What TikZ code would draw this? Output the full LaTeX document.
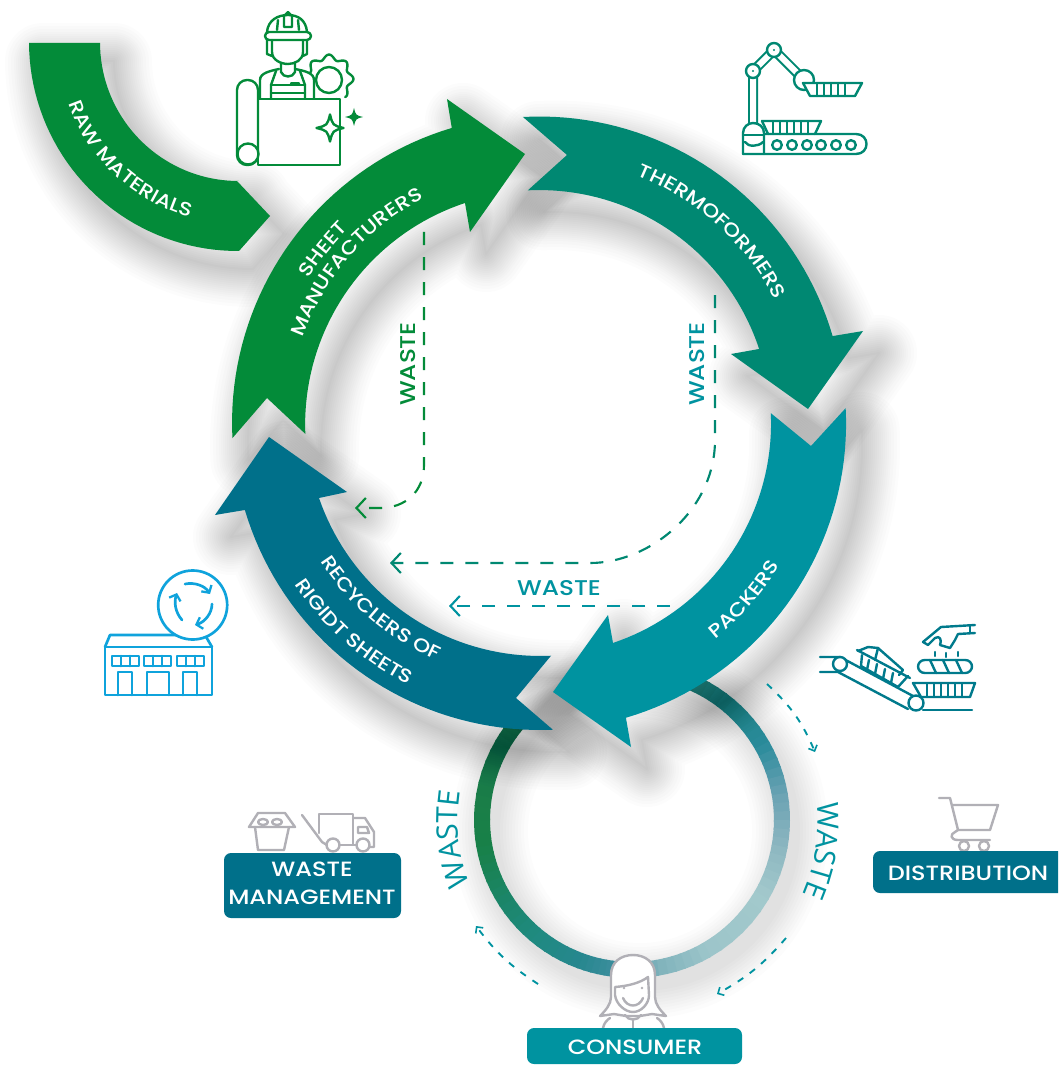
\documentclass[tikz,border=0pt]{standalone}
\usepackage{fontspec}
\setmainfont[FakeStretch=1.16]{Poppins Medium}
\newfontfamily\wastefont{Open Sans}
\usetikzlibrary{arrows.meta,decorations.text}
\definecolor{cGreen}{HTML}{038B39}
\definecolor{cThermo}{HTML}{008872}
\definecolor{cPack}{HTML}{0093A0}
\definecolor{cRecy}{HTML}{00708A}
\definecolor{cBlue}{HTML}{0FA3DC}
\definecolor{cGray}{HTML}{B1B0B6}
\definecolor{cIcon}{HTML}{007A8C}
\definecolor{r1}{HTML}{1A6A63}\definecolor{r2}{HTML}{1E8486}\definecolor{r3}{HTML}{2A8B9B}
\definecolor{r4}{HTML}{6AA2B3}\definecolor{r5}{HTML}{8CB6C0}\definecolor{r6}{HTML}{A3C9CC}
\definecolor{r7}{HTML}{9CC5CA}\definecolor{r8}{HTML}{7FB2BB}\definecolor{r9}{HTML}{3F8F9F}
\definecolor{r10}{HTML}{27878F}\definecolor{r11}{HTML}{1F8A80}\definecolor{r12}{HTML}{1B8565}
\definecolor{r13}{HTML}{188048}\definecolor{r14}{HTML}{1A7F48}\definecolor{r15}{HTML}{16744A}
\definecolor{r16}{HTML}{125E3C}
% arcs in picture pixels: centre, start angle and radius, end angle and radius
\newcommand{\marc}[6]{plot[domain=#3:#5,samples=40,variable=\t]({#1+(#4+(#6-#4)*(\t-#3)/(#5-#3))*cos(\t)},{#2+(#4+(#6-#4)*(\t-#3)/(#5-#3))*sin(\t)})}
\newcommand{\larc}[6]{-- plot[domain=#3:#5,samples=40,variable=\t]({#1+(#4+(#6-#4)*(\t-#3)/(#5-#3))*cos(\t)},{#2+(#4+(#6-#4)*(\t-#3)/(#5-#3))*sin(\t)})}
\newcommand{\pRaw}{\marc{239}{43}{180}{210}{90}{208} -- (270,216) -- (237,181) \larc{239}{43}{90}{138}{180}{139} -- cycle}
\newcommand{\pSheet}{\marc{540}{422}{177}{308}{253.3}{307} -- (447,99) -- (525,154) -- (470,232) -- (465,203) \larc{540}{422}{251.1}{231.5}{177.1}{235} -- (267,398) -- cycle}
\newcommand{\pThermo}{\marc{540}{422}{266.8}{305.5}{343.64}{305} -- (863,331) -- (808,409) -- (731,354) -- (759,349) \larc{540}{422}{341.6}{231}{267}{232} -- (567,155) -- cycle}
\newcommand{\pPack}{\marc{540}{422}{-2.6}{306}{73.8}{308} -- (631,747) -- (553,692) -- (608,615) -- (613,643) \larc{540}{422}{71.7}{232.7}{-2.2}{231} -- (811,446) -- cycle}
\newcommand{\pRecy}{\marc{540}{422}{87.6}{308}{163.4}{308} -- (215,515) -- (269,437) -- (347,492) -- (319,498) \larc{540}{422}{161}{233.7}{87.3}{234} -- (516,698) -- cycle}
\newcommand{\shadowof}[3]{\begin{scope}[shift={(#2,#3)}]
  \foreach \w in {38,35,32,29,27,25,23,21,19,17,15,13,11,9,7,5,3,1}{\draw[black,opacity=.0125,line join=round,line width=1.5*\w pt] #1;}
\end{scope}}
\newcommand{\curvedtext}[6]{\path[decorate,decoration={text along path,text align=center,text={|\fontsize{#6}{#6}\selectfont\color{white}|#5}}] \marc{540}{422}{#1}{#2}{#3}{#4};}
\newcommand{\spark}[3]{({#1-#3},#2) .. controls ({#1-.2*#3},{#2-.2*#3}) .. (#1,{#2-#3}) .. controls ({#1+.2*#3},{#2-.2*#3}) .. ({#1+#3},#2) .. controls ({#1+.2*#3},{#2+.2*#3}) .. (#1,{#2+#3}) .. controls ({#1-.2*#3},{#2+.2*#3}) .. cycle}
\tikzset{
  px/.style={x=0.75pt,y=-0.75pt},
  wdash/.style={line width=1.6pt,dash pattern=on 9.75pt off 9pt,-{Straight Barb[length=7pt,width=15pt,line width=1.6pt]}},
  sdash/.style={cPack,line width=1.4pt,dash pattern=on 5pt off 6pt,-{Straight Barb[length=3.5pt,width=7pt,line width=1.2pt]}},
  icn/.style={line width=1.8pt,line join=round,line cap=round},
  boxlbl/.style={white,font=\fontsize{15.5}{21}\selectfont,align=center,inner sep=0pt},
  wlabel/.style={font=\fontsize{16}{16}\selectfont,inner sep=0pt},
}
\begin{document}
\begin{tikzpicture}[px]
\useasboundingbox (0,0) rectangle (1058,1066);
\clip (0,0) rectangle (1058,1066);
\fill[white] (0,0) rectangle (1058,1066);
% ---------- ring
\begin{scope}[shift={(8,11)}]
\foreach \w in {30,26,23,20,17,14,11,8,5,2}{\draw[black,opacity=.012,line width=0.75pt*(16+2*\w)] (632,820) circle[radius=150];}
\end{scope}
\foreach \aa/\bb/\colA/\colB in {-72/-50/r1/r2,-50/-30/r2/r3,-30/-10/r3/r4,-10/10/r4/r5,10/30/r5/r6,30/60/r6/r7,60/80/r7/r8,80/95/r8/r9,95/110/r9/r10,110/130/r10/r11,130/150/r11/r12,150/170/r12/r13,170/185/r13/r14,185/210/r14/r15,210/226/r15/r16}{
  \foreach \i in {0,...,5}{
    \pgfmathsetmacro\sA{\aa+(\bb-\aa)*\i/6}
    \pgfmathsetmacro\sB{\aa+(\bb-\aa)*(\i+1.2)/6}
    \pgfmathtruncatemacro\pct{100*(\i+.5)/6}
    \draw[\colB!\pct!\colA,line width=12pt] ({632+150*cos(\sA)},{820+150*sin(\sA)}) -- ({632+150*cos(\sB)},{820+150*sin(\sB)});
  }
}
% ---------- shadows
\shadowof{\pRaw}{14}{18}
\shadowof{\pSheet}{16}{22}
\shadowof{\pThermo}{16}{22}
\shadowof{\pPack}{16}{22}
\shadowof{\pRecy}{16}{22}
% ---------- arrows
\fill[cGreen] \pRaw;
\fill[cGreen] \pSheet;
\fill[cThermo] \pThermo;
\fill[cPack] \pPack;
\fill[cRecy] \pRecy;
% ---------- arrow texts
\path[decorate,decoration={text along path,text align=center,text={|\fontsize{14.2}{14.2}\selectfont\color{white}|RAW MATERIALS}}] \marc{239}{43}{172}{181}{94}{181};
\curvedtext{205}{272}{232}{272}{SHEET}{14.2}
\curvedtext{185}{252}{257}{252}{MANUFACTURERS}{14.2}
\curvedtext{272}{265}{352}{265}{THERMOFORMERS}{14.2}
\curvedtext{60}{279}{22}{279}{PACKERS}{14.2}
\curvedtext{160}{260}{101}{260}{RECYCLERS OF}{14.2}
\curvedtext{162}{294}{101}{294}{RIGIDT SHEETS}{14.2}
% ---------- waste connectors
\coordinate (g1) at (424,232); \coordinate (g2) at (355,508);
\draw[wdash,cGreen] (g1) -- (424,465) .. controls (424,492) and (405,508) .. (380,508) -- (g2);
\coordinate (t1) at (715,295); \coordinate (t2) at (390,563);
\draw[wdash,cThermo] (t1) -- (715,440) .. controls (715,510) and (650,563) .. (590,563) -- (t2);
\coordinate (p1) at (670,606); \coordinate (p2) at (449,606);
\draw[wdash,cPack] (p1) -- (p2);
\node[wlabel,cGreen,rotate=90] (wg) at (408,364) {WASTE};
\node[wlabel,cPack,rotate=90] (wt) at (697,364) {WASTE};
\node[wlabel,cPack] (wp) at (559,588) {WASTE};
% ---------- small dashed arrows
\coordinate (s1) at (767,684); \coordinate (s2) at (815,752);
\draw[sdash] (s1) to[bend left=12] (s2);
\coordinate (s3) at (786,938); \coordinate (s4) at (717,994);
\draw[sdash] (s3) to[bend left=10] (s4);
\coordinate (s5) at (538,984); \coordinate (s6) at (476,926);
\draw[sdash] (s5) to[bend left=10] (s6);
% ---------- curved WASTE around ring
\path[decorate,decoration={text along path,text align=center,text={|\wastefont\fontsize{22}{22}\selectfont\color{cPack}|WASTE}}] \marc{632}{820}{150}{174}{198}{174};
\path[decorate,decoration={text along path,text align=center,text={|\wastefont\fontsize{22}{22}\selectfont\color{cPack}|WASTE}}] \marc{632}{820}{-15}{186}{33}{186};
% ---------- worker icon
\begin{scope}[icn,cGreen]
\draw (267,32) .. controls (268,20) and (278,15) .. (288,15) .. controls (298,15) and (306,20) .. (307,32);
\draw (284,27) -- (284,16) -- (288,12) -- (292,16) -- (292,27) -- cycle;
\draw (277,30) -- (278,20); \draw (299,30) -- (298,20);
\draw[rounded corners=3pt] (265,32) rectangle (311,40);
\draw (267,40) -- (267,54) -- (272,56); \draw (307,40) -- (307,54) -- (303,56);
\draw (272,40) -- (272,52) .. controls (272,60) and (281,64) .. (288,64) .. controls (295,64) and (303,60) .. (303,52) -- (303,40);
\draw (281,63) -- (281,72) .. controls (283,78) and (293,78) .. (295,72) -- (295,63);
\draw (260,98) -- (260,80) .. controls (260,73) and (270,71) .. (279,69);
\draw (314,98) -- (314,80) .. controls (314,73) and (305,71) .. (295,69);
\draw (271,98) -- (271,85) -- (276,71); \draw (305,98) -- (305,85) -- (300,71);
\draw (271,85) -- (305,85); \draw (271,93) -- (305,93); \draw (291,83.5) -- (299,83.5);
\draw plot[domain=200:408,samples=140,variable=\t]({329+(22+2.4*cos(8*\t))*cos(\t)},{79+(22+2.4*cos(8*\t))*sin(\t)});
\draw (320,99) -- (322,105) -- (333,105) -- (336,99);
\draw[fill=white] (329,80) circle[radius=13];
\draw[fill=white] (258,99) rectangle (340,165);
\draw[fill=white,rounded corners=7.5pt] (237,80) rectangle (258,165);
\draw[fill=white] (248,154) circle[radius=10.5];
\draw[fill=white] \spark{330}{128}{13.5};
\fill \spark{354}{117}{9};
\end{scope}
% ---------- robot icon
\begin{scope}[icn,cThermo]
\draw[line width=7.5pt,line cap=butt] (753,125) -- (753,71) -- (774,50) -- (804,80);
\draw[white,line width=4.5pt,line cap=butt] (753,125) -- (753,71) -- (774,50) -- (804,80);
\draw[fill=white] (753,71) circle[radius=7]; \fill (753,71) circle[radius=1.2];
\draw[fill=white] (774,50) circle[radius=7]; \fill (774,50) circle[radius=1.2];
\draw[fill=white] (804,80) circle[radius=10];
\draw[fill=white] (803,83) -- (862,83) -- (855,96) -- (810,96) -- cycle;
\foreach \xx in {817,824,831,838,845} \draw (\xx,84) -- (\xx,96);
\draw (762,121) -- (821,121) -- (815,134); \draw (762,121) -- (768,134);
\foreach \xx in {773,780,787,794,801,808} \draw (\xx,122) -- (\xx,134);
\draw (743,154) -- (743,133) .. controls (743,127) and (748,123) .. (753,123) .. controls (759,123) and (764,127) .. (764,133) -- (764,154);
\draw (743,135) -- (764,135);
\draw (745,142) .. controls (748,147) and (758,147) .. (763,142);
\draw (764,134) -- (856,134) .. controls (870,134) and (870,154) .. (856,154) -- (743,154);
\foreach \xx in {777,792,807,821,836,851} \draw (\xx,145) circle[radius=4.8];
\end{scope}
% ---------- recycling icon
\begin{scope}[icn,cBlue,line width=2pt]
\draw (105,647) -- (110,635) -- (205,635) -- (212,647);
\draw (105,647) rectangle (212,695);
\draw[fill=white] (112,656) rectangle (139,666); \draw (121,656) -- (121,666); \draw (130,656) -- (130,666);
\draw[fill=white] (144,656) rectangle (171,666); \draw (153,656) -- (153,666); \draw (162,656) -- (162,666);
\draw[fill=white] (177,656) rectangle (204,666); \draw (186,656) -- (186,666); \draw (195,656) -- (195,666);
\draw (118,695) -- (118,672) -- (132,672) -- (132,695);
\draw (147,695) -- (147,672) -- (169,672) -- (169,695);
\draw (183,695) -- (183,672) -- (197,672) -- (197,695);
\draw[fill=white] (192.7,605) circle[radius=34.5];
\draw[-{Straight Barb[length=4pt,width=9pt,line width=1.7pt]}] (185,584) .. controls (195,582) and (205,586) .. (210,594);
\draw[-{Straight Barb[length=4pt,width=9pt,line width=1.7pt]}] (212,604) .. controls (212,613) and (205,622) .. (195,625);
\draw[-{Straight Barb[length=4pt,width=9pt,line width=1.7pt]}] (182,620) .. controls (175,612) and (174,602) .. (177,593);
\end{scope}
% ---------- packers icon
\begin{scope}[icn,cIcon]
\draw (820,657) -- (840,657) -- (913,696); \draw (820,672) -- (838,672) -- (908,709);
\draw (923,710) -- (972,710);
\draw[fill=white] (840,664) circle[radius=7]; \draw[fill=white] (916,703) circle[radius=7.5];
\draw (857,650) -- (910,678);
\draw (858,651) -- (868,647) -- (878,648) -- (903,670) -- (899,675);
\draw (878,648) -- (875,660);
\draw (862,655) -- (861,666) -- (898,687) -- (908,676);
\foreach \xx/\yy in {869/660,877/664,885/669,893/673} \draw (\xx,\yy) -- ({\xx-2},{\yy+10});
\draw (913,683) -- (975,683) -- (970,697) -- (921,697) -- cycle;
\foreach \xx in {927,934,941,948,955,962} \draw (\xx,684) -- (\xx,697);
\draw[rounded corners=5pt] (918,660) rectangle (972,673);
\draw (930,660) -- (936,673); \draw (943,660) -- (949,673); \draw (956,660) -- (962,673);
\foreach \xx/\yy in {935/652,946/653,958/652} \draw (\xx,\yy) -- (\xx,{\yy+4});
\draw (975,625) -- (941,627) -- (923,642) -- (928,645) -- (935,638) .. controls (940,635) and (942,640) .. (940,645) -- (950,648) -- (955,640) -- (958,634) -- (975,633);
\draw (970,625) -- (970,633);
\end{scope}
% ---------- waste icons
\begin{scope}[icn,cGray]
\draw (249,827) -- (258,813) -- (285,813) -- (295,827) -- cycle;
\draw (263,822) ellipse[x radius=5,y radius=3]; \draw (277,822) ellipse[x radius=5,y radius=3];
\draw (255,827) -- (258,850) -- (284,850) -- (289,827);
\draw (302,815) -- (322,842) -- (327,845);
\draw (319,833) -- (319,814) -- (353,814) -- (353,845) -- (340,845);
\draw (353,818) -- (365,818) -- (374,832) -- (374,847) -- (370,847);
\draw (358,827) -- (367,827) -- (369,833) -- (358,833) -- cycle;
\draw (340,845) -- (356,845);
\draw (333,845) circle[radius=6.5]; \draw (363,845) circle[radius=6.5];
\end{scope}
% ---------- cart icon
\begin{scope}[icn,cGray]
\draw (939,798) -- (950,798) -- (958,830) -- (990,830) -- (998,805) -- (952,805);
\draw (958,830) -- (955,832) .. controls (950,834) and (950,840) .. (958,840) -- (990,840);
\draw (964,846) circle[radius=5]; \draw (984,846) circle[radius=5];
\end{scope}
% ---------- consumer icon
\begin{scope}[icn,cGray]
\draw[fill=white] (600,1016) .. controls (606,1010) and (611,1004) .. (611,997) -- (611,975) .. controls (611,962) and (621,955) .. (633,955) .. controls (645,955) and (655,962) .. (655,975) -- (655,997) .. controls (655,1004) and (660,1010) .. (666,1016) -- (652,1014) -- (640,1016) -- (626,1016) -- (614,1014) -- cycle;
\draw (615,987) .. controls (628,986) and (640,983) .. (648,977) -- (649,995) .. controls (649,1004) and (641,1012) .. (633,1012) .. controls (625,1012) and (616,1004) .. (615,995) -- cycle;
\fill (624,988) circle[radius=1.4]; \fill (642,988) circle[radius=1.4];
\draw (623,998) .. controls (627,1008) and (639,1008) .. (643,998);
\draw (603,1028) .. controls (604,1023) and (607,1020) .. (610,1018);
\draw (664,1028) .. controls (663,1023) and (660,1020) .. (657,1018);
\draw (625,1015) .. controls (628,1021) and (638,1021) .. (641,1015);
\draw (633,1020) -- (633,1028);
\end{scope}
% ---------- label boxes
\fill[cRecy,rounded corners=5.25pt] (873,851) rectangle (1080,893);
\node[boxlbl] (dist) at (968,873) {DISTRIBUTION};
\fill[cRecy,rounded corners=5.25pt] (224,853) rectangle (401,918);
\node[boxlbl] (mgmt) at (312,883) {WASTE\\MANAGEMENT};
\fill[cPack,rounded corners=5.25pt] (527,1028) rectangle (742,1064);
\node[boxlbl] (cons) at (635,1047) {CONSUMER};
\end{tikzpicture}
\end{document}
